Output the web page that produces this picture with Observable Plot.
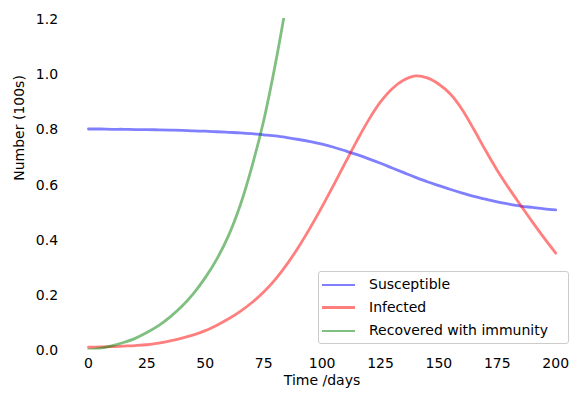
<!DOCTYPE html>
<html>
<head>
<meta charset="utf-8">
<script src="https://cdn.jsdelivr.net/npm/d3@7"></script>
<script src="https://cdn.jsdelivr.net/npm/@observablehq/plot@0.6"></script>
<style>
  html, body { margin: 0; padding: 0; background: #fff; }
  #wrap { position: relative; width: 569px; height: 394px; font-family: "DejaVu Sans", sans-serif; }
  #wrap svg { display: block; }
  .legend { position: absolute; left: 318px; top: 271px; width: 249px; height: 71px;
            border: 1px solid #cccccc; border-radius: 3px; background: rgba(255,255,255,0.8); }
  .entry { position: absolute; left: 0; height: 0; }
  .swatch { position: absolute; left: 3px; width: 33px; height: 2.8px; margin-top: -1.4px; }
  .lab { position: absolute; left: 50px; font-size: 14px; line-height: 14px; margin-top: -8px; white-space: nowrap; color: #000; }
</style>
</head>
<body>
<div id="wrap"></div>
<script>
// Tick values
const xTicks = [0, 25, 50, 75, 100, 125, 150, 175, 200];
const yTicks = [0, 0.2, 0.4, 0.6, 0.8, 1.0, 1.2];

// Series names and colours
const seriesNames = ["Susceptible", "Infected", "Recovered with immunity"];
const seriesColors = ["#0000ff", "#ff0000", "#008000"];

// Time (days) for S and I
const days = [0,5,10,15,20,25,30,35,40,45,50,55,60,65,70,75,80,85,90,95,100,
              105,110,115,120,125,130,135,140,145,150,155,160,165,170,175,180,185,190,195,200];
const susceptible = [0.800,0.800,0.799,0.799,0.798,0.798,0.797,0.796,0.795,0.793,0.792,
                     0.790,0.788,0.786,0.783,0.779,0.775,0.769,0.762,0.754,0.745,
                     0.734,0.721,0.707,0.692,0.676,0.659,0.642,0.625,0.609,0.595,
                     0.581,0.568,0.556,0.546,0.536,0.528,0.521,0.516,0.511,0.507];
const infected = [0.010,0.011,0.012,0.014,0.016,0.019,0.025,0.033,0.043,0.055,0.070,
                  0.090,0.113,0.140,0.172,0.210,0.256,0.311,0.374,0.444,0.519,
                  0.598,0.679,0.759,0.834,0.898,0.946,0.977,0.992,0.985,0.962,
                  0.926,0.870,0.798,0.722,0.650,0.585,0.524,0.464,0.406,0.351];
// Recovered (runs off the top of the axes)
const daysR = [0,5,10,15,20,25,30,35,40,45,50,55,60,65,70,75,80,85];
const recovered = [0,0.006,0.015,0.027,0.042,0.063,0.088,0.120,0.158,0.205,0.262,
                   0.330,0.415,0.525,0.665,0.830,1.035,1.27];

const sData = days.map((t, i) => ({t, v: susceptible[i]}));
const iData = days.map((t, i) => ({t, v: infected[i]}));
const rData = daysR.map((t, i) => ({t, v: recovered[i]}));

const lineOpts = (c) => ({x: "t", y: "v", stroke: c, strokeOpacity: 0.5, strokeWidth: 2.8,
                          curve: "catmull-rom", clip: true});

const chart = Plot.plot({
  width: 569,
  height: 394,
  marginLeft: 64.6,
  marginRight: 0,
  marginTop: 18,
  marginBottom: 44.5,
  x: {domain: [-10, 205.9]},
  y: {domain: [0, 1.2]},
  style: {fontFamily: "DejaVu Sans, sans-serif", fontSize: "14px", color: "#000", background: "#fff"},
  marks: [
    Plot.axisX({ticks: xTicks, tickSize: 0, tickPadding: 8, label: null, tickFormat: d => String(d)}),
    Plot.axisY({ticks: yTicks, tickSize: 0, tickPadding: 7, dy: 1, label: null, tickFormat: d => d.toFixed(1)}),
    Plot.line(sData, lineOpts(seriesColors[0])),
    Plot.line(iData, lineOpts(seriesColors[1])),
    Plot.line(rData, lineOpts(seriesColors[2])),
    Plot.text(["Time /days"], {frameAnchor: "bottom", text: d => d, dx: 4.7, dy: 35, fontSize: 14, fill: "#000"}),
    Plot.text(["Number (100s)"], {frameAnchor: "left", text: d => d, rotate: -90, dx: -45.6, dy: -3.5, fontSize: 14, fill: "#000"})
  ]
});

const wrap = document.getElementById("wrap");
wrap.appendChild(chart);

// Legend (lines with labels), lower right inside the axes
const legend = document.createElement("div");
legend.className = "legend";
const entryTops = [13, 35.7, 59];
seriesNames.forEach((name, i) => {
  const e = document.createElement("div");
  e.className = "entry";
  e.style.top = entryTops[i] + "px";
  const sw = document.createElement("div");
  sw.className = "swatch";
  sw.style.background = seriesColors[i];
  sw.style.opacity = 0.5;
  const lab = document.createElement("div");
  lab.className = "lab";
  lab.textContent = name;
  e.appendChild(sw);
  e.appendChild(lab);
  legend.appendChild(e);
});
wrap.appendChild(legend);
</script>
</body>
</html>
